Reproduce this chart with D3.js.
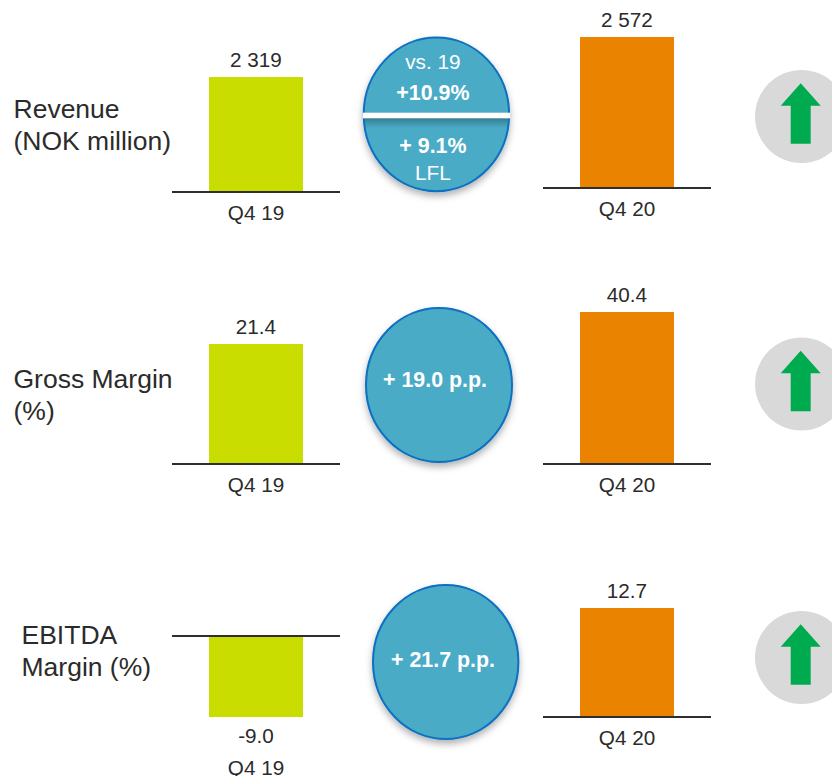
<!DOCTYPE html>
<html>
<head>
<meta charset="utf-8">
<script src="https://cdn.jsdelivr.net/npm/d3@7"></script>
<style>
  html, body { margin: 0; padding: 0; background: #fff; overflow: hidden; }
  svg { display: block; }
  text { font-family: "Liberation Sans", Arial, sans-serif; }
</style>
</head>
<body>
<svg id="chart" width="832" height="776"></svg>
<script>
// Quarterly figures, one row per metric
const metrics = ["Revenue", "Gross Margin", "EBITDA Margin"];
const metricTitles = [["Revenue", "(NOK million)"], ["Gross Margin", "(%)"], ["EBITDA", "Margin (%)"]];
const periods = ["Q4 19", "Q4 20"];
const valuesQ419 = [2319, 21.4, -9.0];
const valuesQ420 = [2572, 40.4, 12.7];
const labelsQ419 = ["2 319", "21.4", "-9.0"];
const labelsQ420 = ["2 572", "40.4", "12.7"];
const changeLines = [
  [{ t: "vs. 19", bold: false, dy: 32.4 }, { t: "+10.9%", bold: true, dy: 63.4 }, { t: "+ 9.1%", bold: true, dy: 116.7 }, { t: "LFL", bold: false, dy: 143.4 }],
  [{ t: "+ 19.0 p.p.", bold: true, dy: 80 }],
  [{ t: "+ 21.7 p.p.", bold: true, dy: 83 }]
];

// Layout of each row: every mini chart has its own vertical scale
const leftFrame = { barX: 209, barW: 94, axisX1: 172, axisX2: 340 };
const rightFrame = { barX: 580, barW: 94, axisX1: 543, axisX2: 711 };
const rows = [
  { titleX: 13.5, titleY: 118, left: { base: 192, pxPerUnit: 115 / 2319, catY: 220 }, right: { base: 188, pxPerUnit: 151 / 2572, catY: 216 },
    bubble: { cx: 436.4, cy: 114.4, rx: 73.7, ry: 77.8, textDx: -3.5 }, badgeCy: 116.5 },
  { titleX: 13.5, titleY: 388, left: { base: 464, pxPerUnit: 120 / 21.4, catY: 492 }, right: { base: 464, pxPerUnit: 152 / 40.4, catY: 492 },
    bubble: { cx: 439, cy: 385, rx: 74, ry: 78, textDx: -4 }, badgeCy: 384 },
  { titleX: 21.5, titleY: 644, left: { base: 636, pxPerUnit: 81 / 9, catY: 775 }, right: { base: 717, pxPerUnit: 109 / 12.7, catY: 745 },
    bubble: { cx: 445.7, cy: 662, rx: 73.7, ry: 78, textDx: -2.7 }, badgeCy: 657.5 }
];

const colors = { q419: "#c9de00", q420: "#e98300", axis: "#2e2e2e", text: "#2b2b2b", bubble: "#4aabc6", bubbleEdge: "#0a6fc0", badge: "#d9d9d9", arrow: "#00ab50" };

const svg = d3.select("#chart");

const defs = svg.append("defs");
const shadow = defs.append("filter").attr("id", "bubbleShadow")
  .attr("x", "-20%").attr("y", "-20%").attr("width", "140%").attr("height", "140%");
shadow.append("feDropShadow").attr("dx", 0).attr("dy", 4).attr("stdDeviation", 3.5)
  .attr("flood-color", "#000").attr("flood-opacity", 0.3);

// Soft shade cast by the divider onto the lower half of a split bubble
const shade = defs.append("linearGradient").attr("id", "dividerShade")
  .attr("x1", 0).attr("y1", 0).attr("x2", 0).attr("y2", 1);
shade.append("stop").attr("offset", 0).attr("stop-color", "#000").attr("stop-opacity", 0.28);
shade.append("stop").attr("offset", 1).attr("stop-color", "#000").attr("stop-opacity", 0);

function miniBar(g, value, label, period, frame, spec, color) {
  // Pixel range spans the bar's own value, so the zero line sits on spec.base
  const y = d3.scaleLinear()
    .domain([0, value])
    .range([spec.base, spec.base - value * spec.pxPerUnit]);
  const top = Math.min(y(0), y(value));
  const h = Math.abs(y(value) - y(0));

  g.append("rect")
    .attr("x", frame.barX).attr("y", top)
    .attr("width", frame.barW).attr("height", h)
    .attr("fill", color);

  const axis = d3.axisBottom(d3.scaleLinear().domain([0, 1]).range([frame.axisX1, frame.axisX2]))
    .tickValues([]).tickSizeOuter(0).offset(0);
  const axisG = g.append("g").attr("transform", `translate(0,${y(0)})`).call(axis);
  axisG.select(".domain").attr("stroke", colors.axis).attr("stroke-width", 2);

  const cx = frame.barX + frame.barW / 2;
  g.append("text")
    .attr("x", cx).attr("y", value >= 0 ? top - 10 : top + h + 26)
    .attr("text-anchor", "middle").attr("font-size", 20.7).attr("fill", colors.text)
    .text(label);
  g.append("text")
    .attr("x", cx).attr("y", spec.catY)
    .attr("text-anchor", "middle").attr("font-size", 20.7).attr("fill", colors.text)
    .text(period);
}

rows.forEach((row, i) => {
  const g = svg.append("g").attr("class", "row").attr("data-metric", metrics[i]);

  metricTitles[i].forEach((line, k) => {
    g.append("text")
      .attr("x", row.titleX).attr("y", row.titleY + k * 32)
      .attr("font-size", 26.5).attr("fill", colors.text)
      .text(line);
  });

  miniBar(g, valuesQ419[i], labelsQ419[i], periods[0], leftFrame, row.left, colors.q419);
  miniBar(g, valuesQ420[i], labelsQ420[i], periods[1], rightFrame, row.right, colors.q420);

  // Change bubble
  const b = row.bubble;
  g.append("ellipse")
    .attr("cx", b.cx).attr("cy", b.cy).attr("rx", b.rx - 1).attr("ry", b.ry - 1)
    .attr("fill", colors.bubble).attr("stroke", colors.bubbleEdge).attr("stroke-width", 2)
    .attr("filter", "url(#bubbleShadow)");

  if (changeLines[i].length > 1) {
    const clipId = `bubbleClip${i}`;
    defs.append("clipPath").attr("id", clipId).append("ellipse")
      .attr("cx", b.cx).attr("cy", b.cy).attr("rx", b.rx - 2).attr("ry", b.ry - 2);
    g.append("rect")
      .attr("x", b.cx - b.rx).attr("y", b.cy + 3.5).attr("width", b.rx * 2).attr("height", 10)
      .attr("fill", "url(#dividerShade)").attr("clip-path", `url(#${clipId})`);
    g.append("rect")
      .attr("x", b.cx - b.rx).attr("y", b.cy - 1.7).attr("width", b.rx * 2).attr("height", 5.6)
      .attr("fill", "#fff");
  }

  changeLines[i].forEach(line => {
    g.append("text")
      .attr("x", b.cx + b.textDx).attr("y", b.cy - b.ry + line.dy)
      .attr("text-anchor", "middle").attr("fill", "#fff")
      .attr("font-size", line.bold ? 21.4 : 20.8).attr("font-weight", line.bold ? "bold" : "normal")
      .text(line.t);
  });

  // Direction badge
  g.append("circle")
    .attr("cx", 801.5).attr("cy", row.badgeCy).attr("r", 46.5)
    .attr("fill", colors.badge);
  const arrow = d3.path();
  const ax = 800.7, ay = row.badgeCy - 33.2;
  arrow.moveTo(ax, ay);
  arrow.lineTo(ax + 20, ay + 22.5);
  arrow.lineTo(ax + 10, ay + 22.5);
  arrow.lineTo(ax + 10, ay + 60.5);
  arrow.lineTo(ax - 10, ay + 60.5);
  arrow.lineTo(ax - 10, ay + 22.5);
  arrow.lineTo(ax - 20, ay + 22.5);
  arrow.closePath();
  g.append("path").attr("d", arrow.toString()).attr("fill", colors.arrow);
});
</script>
</body>
</html>
